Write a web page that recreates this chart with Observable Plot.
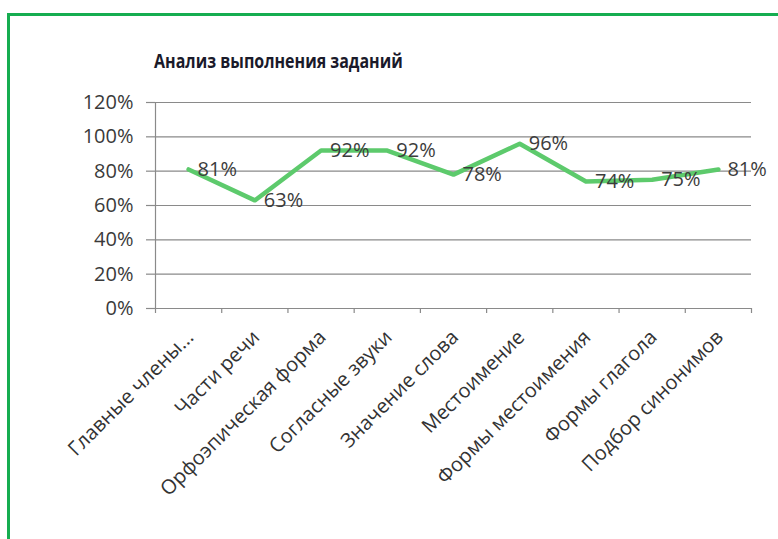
<!DOCTYPE html>
<html>
<head>
<meta charset="utf-8">
<script src="https://cdn.jsdelivr.net/npm/d3@7"></script>
<script src="https://cdn.jsdelivr.net/npm/@observablehq/plot@0.6"></script>
<style>
  html, body { margin: 0; padding: 0; background: #fff; overflow: hidden; }
  #wrap { position: relative; width: 778px; height: 539px; }
  #frame { position: absolute; left: 7px; top: 13px; width: 800px; height: 560px;
           border-top: 3px solid #16ad50; border-left: 3px solid #16ad50; box-sizing: border-box; }
  #title { position: absolute; left: 0; width: 557px; top: 47px; text-align: center;
           font-family: "Open Sans", sans-serif; font-weight: 700; font-size: 19.5px; color: #1a1a2a;
           transform: scaleX(0.82); transform-origin: 278px 0; }
  svg { position: absolute; left: 0; top: 0; }
</style>
</head>
<body>
<div id="wrap">
  <div id="frame"></div>
  <div id="title">Анализ выполнения заданий</div>
</div>
<script>
const categories = ["Главные члены...", "Части речи", "Орфоэпическая форма", "Согласные звуки", "Значение слова", "Местоимение", "Формы местоимения", "Формы глагола", "Подбор синонимов"];
const values = [0.81, 0.63, 0.92, 0.92, 0.78, 0.96, 0.74, 0.75, 0.81];
const yTicks = [0, 0.2, 0.4, 0.6, 0.8, 1.0, 1.2];

const data = categories.map((c, i) => ({c, pos: i + 0.5, v: values[i]}));
const pct = d3.format(".0%");
const font = "Open Sans, sans-serif";

const chart = Plot.plot({
  width: 778,
  height: 539,
  marginLeft: 155,
  marginRight: 27,
  marginTop: 102,
  marginBottom: 231,
  style: {fontFamily: font, background: "transparent"},
  x: {type: "linear", domain: [0, categories.length], axis: null},
  y: {domain: [0, 1.2], axis: null},
  marks: [
    Plot.gridY(yTicks, {stroke: "#8a8a8a", strokeOpacity: 1, strokeWidth: 1.2}),
    Plot.axisY(yTicks, {tickSize: 9, tickPadding: 13, tickFormat: pct, stroke: "#8a8a8a",
      strokeWidth: 1.2, fontSize: 20, fill: "#3a3a3a", label: null}),
    Plot.ruleX([0], {stroke: "#8a8a8a", strokeWidth: 1.2}),
    Plot.axisX(d3.range(0, categories.length + 1), {tickSize: 5, tickFormat: () => "",
      stroke: "#8a8a8a", strokeWidth: 1.2, label: null}),
    Plot.text(data, {x: "pos", text: "c", frameAnchor: "bottom", rotate: -45, textAnchor: "end",
      dx: 6, dy: 30, fontSize: 20, fill: "#333"}),
    Plot.line(data, {x: "pos", y: "v", stroke: "#5dca6c", strokeWidth: 4.5,
      strokeLinejoin: "round", strokeLinecap: "round"}),
    Plot.text(data, {x: "pos", y: "v", text: d => pct(d.v), textAnchor: "start", dx: 9,
      fontSize: 20, fill: "#3c3c3c"})
  ]
});
document.getElementById("wrap").appendChild(chart);
</script>
</body>
</html>
